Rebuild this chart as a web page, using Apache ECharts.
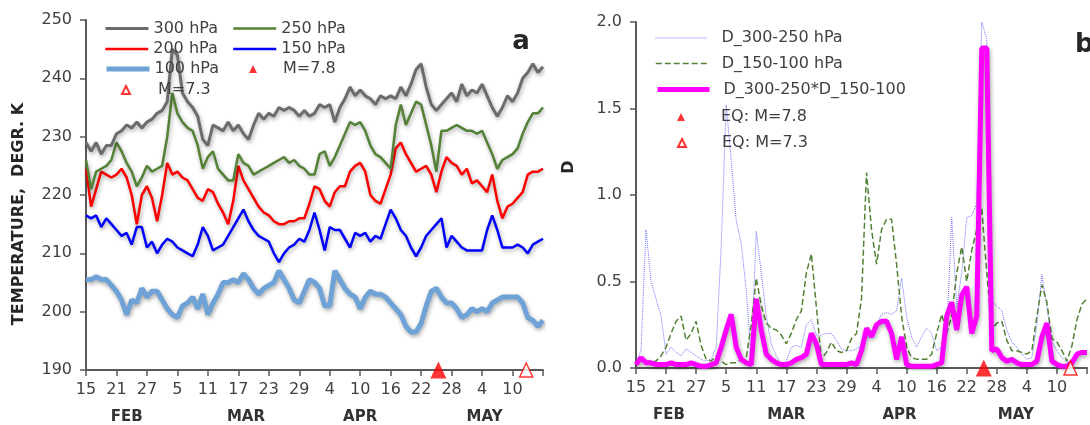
<!DOCTYPE html>
<html><head><meta charset="utf-8">
<script src="https://cdn.jsdelivr.net/npm/echarts@6/dist/echarts.min.js"></script>
<style>html,body{margin:0;padding:0;background:#fff}#c{width:1090px;height:425px}</style>
</head><body><div id="c"></div>
<script>
// ---------- tick labels / categories ----------
const xTickLabels = ['15','21','27','5','11','17','23','29','4','10','16','22','28','4','10',''];
const monthNames = ['FEB','MAR','APR','MAY'];
const monthPosA = [8, 31.5, 54, 78.5];
const monthPosB = [6.6, 30, 52.6, 75.8];

// ---------- panel a: temperature (K), daily from Feb 15 ----------
const t300 = [229,227.5,229,227,228.5,228.5,230.5,231,232,231.5,
  232.5,231.5,232.5,233,234,234.5,236,245,244,237.5,
  236,235,233.5,229.5,228.5,232,231.5,231,232.5,231,
  232,230.5,229.5,232,234,233,234,233.5,235,234.5,
  235,234.5,233.5,234.5,233.5,234,235.5,235,235.5,232.5,
  235,236.5,238.5,237,238,237,236.5,235.5,237,236.5,
  237,236.5,238.5,237,239,241.5,242.5,238.5,235.5,234.5,
  235.5,236.5,237.5,236,239,237,238,237.5,239,237,
  235,233.5,235,237,236,237.5,240,241,242.5,241,242];
const t250 = [226,221,224,224.5,225,226,229,227.5,225.5,224,
  221.5,223,225,224,224.5,225,230,237.5,234,232.5,
  231.5,231,228.5,224.5,226.5,227.5,224.5,223.5,222.5,222.5,
  227,225.5,225,223.5,224,224.5,225,225.5,226,226.5,
  225.5,226,225,224.5,223.5,223.5,227,227.5,225,226.5,
  228.5,230.5,232.5,232,232.5,231,228.5,227,226.5,225.5,
  224.5,232,235.5,232,234,236,235.5,232,228.5,224,
  231,231,231.5,232,231.5,231,231,230.5,231,229,
  227,224.5,226,226.5,227,228,230.5,232.5,234,234,235];
const t200 = [224.5,218,221,224,223.5,223,223.5,224.5,223,220,
  215,220,221.5,219.5,215.5,220,225.5,223.5,224,223,
  222.5,221,219.5,219,221,220.5,218.5,217,215,219,
  225,222.5,221,219.5,218,217,216.5,215.5,215,215,
  215.5,215.5,216,216,218.5,221.5,221,219,218,220.5,
  221.5,221.5,224,225,225.5,224,220,219,218.5,221,
  223.5,228,229,227,225.5,224,224.5,225,223.5,220.5,
  224,226.5,225.5,225,223.5,224.5,222,222.5,221.5,220.5,
  223.5,219,216,218,218.5,219.5,220.5,223.5,224,224,224.5];
const t150 = [216.5,216,216.5,214.5,216,215,214,213,213.5,211.5,
  214.5,214.5,211,212,210,211.5,212.5,212,211,210.5,
  210,209.5,211.5,214.5,213,210.5,211,211.5,213,214.5,
  216,217.5,215.5,214,213,212.5,212,210,208.5,210,
  211,211.5,212.5,212,214,217,214,210.5,214.5,214,
  214,212.5,211,213.5,213,213.5,212,213,212.5,215,
  217.5,216,214,213,211,209.5,211,213,214,215,
  216,211,213,212,211,210.5,210.5,210.5,210.5,214,
  216.5,214,211,211,211,211.5,211,210,211.5,212,212.5];
const t100 = [205.5,205.5,206,205.5,205.5,204.5,203.5,202,199.5,202,
  201.5,204,202.5,203.5,203.5,202,200.5,199.5,199,201,
  201.5,202.5,200.5,203,199.5,201.5,203,205,205,205.5,
  205,206.5,205.5,204,203,204,204.5,205,207,205.5,
  204,202,201.5,203.5,205.5,205,204,201,201,207,
  205.5,204,203,202.5,200.5,202.5,203.5,203,203,202.5,
  201.5,200.5,199.5,197.5,196.5,196.5,198,201,203.5,204,
  202.5,201.5,201.5,200.5,199,199.5,200.5,200,200.5,200,
  201.5,202,202.5,202.5,202.5,202.5,201.5,199,198.5,197.5,198.5];

// ---------- panel b: D indices ----------
const d300_250 = [0.03,0.1,0.8,0.5,0.4,0.3,0.08,0.12,0.09,0.07,
  0.11,0.09,0.07,0.05,0.04,0.05,0.12,0.7,1.52,1.2,
  0.85,0.72,0.45,0.06,0.79,0.55,0.3,0.14,0.07,0.02,
  0.04,0.12,0.13,0.12,0.25,0.28,0.19,0.19,0.2,0.2,
  0.16,0.11,0.1,0.1,0.11,0.13,0.17,0.2,0.25,0.31,
  0.32,0.31,0.33,0.52,0.3,0.18,0.12,0.18,0.23,0.2,
  0.1,0.12,0.18,0.87,0.35,0.55,0.87,0.88,0.95,2.0,
  1.9,0.38,0.36,0.33,0.22,0.15,0.12,0.08,0.05,0.06,
  0.25,0.54,0.35,0.15,0.1,0.06,0.03,0.05,0.08,0.1,0.1];
const d150_100 = [0.05,0.04,0.03,0.03,0.04,0.07,0.12,0.2,0.27,0.3,
  0.16,0.2,0.27,0.13,0.05,0.04,0.07,0.04,0.02,0.03,
  0.03,0.05,0.06,0.25,0.52,0.36,0.26,0.23,0.22,0.19,
  0.14,0.2,0.28,0.33,0.55,0.66,0.35,0.05,0.09,0.15,
  0.1,0.09,0.1,0.17,0.2,0.4,1.13,0.8,0.6,0.8,
  0.86,0.86,0.6,0.3,0.12,0.06,0.05,0.05,0.05,0.08,
  0.2,0.31,0.2,0.3,0.55,0.7,0.5,0.68,0.8,0.92,
  0.55,0.22,0.26,0.27,0.16,0.1,0.1,0.09,0.08,0.1,
  0.3,0.48,0.38,0.17,0.15,0.1,0.04,0.13,0.28,0.37,0.4];
const dProduct = [0.02,0.06,0.03,0.03,0.02,0.02,0.02,0.03,0.02,0.02,
  0.02,0.03,0.02,0.01,0.01,0.02,0.03,0.12,0.22,0.31,
  0.12,0.05,0.03,0.02,0.4,0.22,0.08,0.05,0.03,0.02,
  0.02,0.03,0.05,0.06,0.08,0.2,0.14,0.02,0.02,0.02,
  0.02,0.02,0.02,0.03,0.02,0.1,0.23,0.18,0.25,0.27,
  0.27,0.2,0.05,0.18,0.02,0.01,0.01,0.01,0.01,0.01,
  0.02,0.03,0.3,0.38,0.22,0.42,0.47,0.2,0.3,1.85,
  1.85,0.1,0.11,0.06,0.04,0.05,0.03,0.02,0.02,0.02,
  0.04,0.18,0.26,0.04,0.02,0.01,0.01,0.03,0.08,0.09,0.09];

// earthquakes (days after Feb 15)
const eq78 = [69.4];
const eq73 = [86.7];

// ---------- build ----------
const FF = 'DejaVu Sans';
const TXT = '#404040';
const toXY = arr => arr.map((v, i) => [i, v]);
const shadow = {shadowColor:'rgba(0,0,0,0.35)', shadowBlur:4, shadowOffsetX:1, shadowOffsetY:2};

function dayAxis(grid) {
  return {type:'value', gridIndex:grid, min:0, max:90, interval:6,
    axisLine:{show:true, onZero:false, lineStyle:{color:'#595959', width:2}},
    axisTick:{show:true, inside:false, length:6, lineStyle:{color:'#595959', width:1.5}},
    splitLine:{show:false},
    axisLabel:{margin:12, fontFamily:FF, fontSize:16, color:TXT,
      formatter:v => xTickLabels[Math.round(v/6)]}};
}
function monthAxis(grid, pos) {
  return {type:'value', gridIndex:grid, min:0, max:90, position:'bottom',
    axisLine:{show:false}, axisTick:{show:false}, splitLine:{show:false},
    axisLabel:{customValues:pos, margin:40, fontFamily:FF, fontSize:15, fontWeight:'bold', color:'#333',
      formatter:v => { const k = pos.findIndex(p => Math.abs(p - v) < 1e-6); return k >= 0 ? monthNames[k] : ''; }}};
}
function ts(padLeft) {
  return {fontFamily:FF, fontSize:16, color:TXT, lineHeight:16, padding:[0,0,0,padLeft]};
}
// line-sample legend entry: sample starts at `left`, text follows
function lineLegend(name, left, cy, w, padLeft, lw, lt) {
  return {data:[name], left:left, top:cy - 8, padding:0, itemGap:0,
    itemWidth:w, itemHeight:14, selectedMode:false,
    itemStyle:{opacity:0},
    lineStyle:{width:lw, type:lt || 'solid', shadowBlur:0, shadowOffsetX:0, shadowOffsetY:0},
    textStyle:ts(padLeft)};
}
// marker legend entry: marker centred at cx, text starting at textX
function markLegend(name, cx, cy, size, textX) {
  const left = cx - size / 2;
  return {data:[name], left:left, top:cy - 8, padding:0, itemGap:0,
    itemWidth:size, itemHeight:size, selectedMode:false,
    textStyle:ts(textX - (left + size + 5))};
}

const option = {
  animation:false,
  backgroundColor:'#fff',
  grid:[
    {left:86, top:20, width:457, height:350},
    {left:636, top:22, width:457, height:346}
  ],
  xAxis:[dayAxis(0), monthAxis(0, monthPosA), dayAxis(1), monthAxis(1, monthPosB)],
  yAxis:[
    {type:'value', gridIndex:0, min:190, max:250, interval:10,
     axisLine:{show:true, lineStyle:{color:'#595959', width:2}},
     axisTick:{show:true, length:6, lineStyle:{color:'#595959', width:1.5}},
     splitLine:{show:false},
     axisLabel:{margin:14, fontFamily:FF, fontSize:16, color:TXT}},
    {type:'value', gridIndex:1, min:0, max:2, interval:0.5,
     axisLine:{show:true, lineStyle:{color:'#595959', width:2}},
     axisTick:{show:true, length:6, lineStyle:{color:'#595959', width:1.5}},
     splitLine:{show:false},
     axisLabel:{margin:14, fontFamily:FF, fontSize:16, color:TXT, formatter:v => v.toFixed(1)}}
  ],
  legend:[
    lineLegend('300 hPa', 104, 28.5, 43, 0, 3),
    lineLegend('200 hPa', 104, 49, 43, 0, 2.5),
    lineLegend('100 hPa', 104, 69, 43, 0, 5),
    markLegend('M=7.3', 125, 90, 8, 157),
    lineLegend('250 hPa', 232, 28.5, 43, 0, 2.5),
    lineLegend('150 hPa', 232, 49, 43, 0, 2.5),
    markLegend('M=7.8', 253, 69, 8, 283),
    lineLegend('D_300-250 hPa', 655, 38, 52, 9, 1, 'dotted'),
    lineLegend('D_150-100 hPa', 655, 63.5, 52, 9, 1.5, 'dashed'),
    lineLegend('D_300-250*D_150-100', 655, 89.5, 52, 9, 5),
    markLegend('EQ: M=7.8', 681, 117, 8, 721),
    markLegend('EQ: M=7.3', 681, 143, 8, 721)
  ],
  graphic:[
    {type:'text', x:19, y:214, rotation:Math.PI/2,
     style:{text:'TEMPERATURE,  DEGR. K', fontFamily:FF, fontSize:16, fontWeight:'bold', fill:'#262626', align:'center', verticalAlign:'middle'}},
    {type:'text', x:569, y:167, rotation:Math.PI/2,
     style:{text:'D', fontFamily:FF, fontSize:16, fontWeight:'bold', fill:'#262626', align:'center', verticalAlign:'middle'}},
    {type:'text', x:521, y:42,
     style:{text:'a', fontFamily:FF, fontSize:26, fontWeight:'bold', fill:'#262626', align:'center', verticalAlign:'middle'}},
    {type:'text', x:1075, y:45,
     style:{text:'b', fontFamily:FF, fontSize:26, fontWeight:'bold', fill:'#262626', align:'left', verticalAlign:'middle'}}
  ],
  series:[
    {name:'100 hPa', type:'line', xAxisIndex:0, yAxisIndex:0, symbol:'none', data:toXY(t100),
     lineStyle:Object.assign({color:'#6FA3D8', width:5}, shadow), itemStyle:{color:'#6FA3D8'}},
    {name:'150 hPa', type:'line', xAxisIndex:0, yAxisIndex:0, symbol:'none', data:toXY(t150),
     lineStyle:Object.assign({color:'#0000FF', width:2.5}, shadow), itemStyle:{color:'#0000FF'}},
    {name:'200 hPa', type:'line', xAxisIndex:0, yAxisIndex:0, symbol:'none', data:toXY(t200),
     lineStyle:Object.assign({color:'#FF0000', width:2.5}, shadow), itemStyle:{color:'#FF0000'}},
    {name:'250 hPa', type:'line', xAxisIndex:0, yAxisIndex:0, symbol:'none', data:toXY(t250),
     lineStyle:Object.assign({color:'#538135', width:2.5}, shadow), itemStyle:{color:'#538135'}},
    {name:'300 hPa', type:'line', xAxisIndex:0, yAxisIndex:0, symbol:'none', data:toXY(t300),
     lineStyle:Object.assign({color:'#6B6B6B', width:3}, shadow), itemStyle:{color:'#6B6B6B'}},
    {name:'M=7.8', type:'scatter', xAxisIndex:0, yAxisIndex:0, symbol:'triangle', symbolSize:[16,17], clip:false, z:10,
     data:eq78.map(d => [d, 190]), itemStyle:{color:'#FF0000'}},
    {name:'M=7.3', type:'scatter', xAxisIndex:0, yAxisIndex:0, symbol:'triangle', symbolSize:[13,14], clip:false, z:10,
     data:eq73.map(d => [d, 190]), itemStyle:{color:'#FFFFFF', borderColor:'#FF0000', borderWidth:1.5}},

    {name:'D_300-250 hPa', type:'line', xAxisIndex:2, yAxisIndex:1, symbol:'none', data:toXY(d300_250),
     lineStyle:{color:'#7070FF', width:1, type:'dotted'}, itemStyle:{color:'#7070FF'}},
    {name:'D_150-100 hPa', type:'line', xAxisIndex:2, yAxisIndex:1, symbol:'none', data:toXY(d150_100),
     lineStyle:{color:'#538135', width:1.5, type:'dashed'}, itemStyle:{color:'#538135'}},
    {name:'D_300-250*D_150-100', type:'line', xAxisIndex:2, yAxisIndex:1, symbol:'none', data:toXY(dProduct),
     lineStyle:Object.assign({color:'#FF00FF', width:5}, shadow), itemStyle:{color:'#FF00FF'}},
    {name:'EQ: M=7.8', type:'scatter', xAxisIndex:2, yAxisIndex:1, symbol:'triangle', symbolSize:[16,17], clip:false, z:10,
     data:eq78.map(d => [d, 0]), itemStyle:{color:'#FF0000'}},
    {name:'EQ: M=7.3', type:'scatter', xAxisIndex:2, yAxisIndex:1, symbol:'triangle', symbolSize:[13,14], clip:false, z:10,
     data:eq73.map(d => [d, 0]), itemStyle:{color:'#FFFFFF', borderColor:'#FF0000', borderWidth:1.5}}
  ]
};
const chart = echarts.init(document.getElementById('c'), null, {renderer:'canvas'});
chart.setOption(option);
</script></body></html>
